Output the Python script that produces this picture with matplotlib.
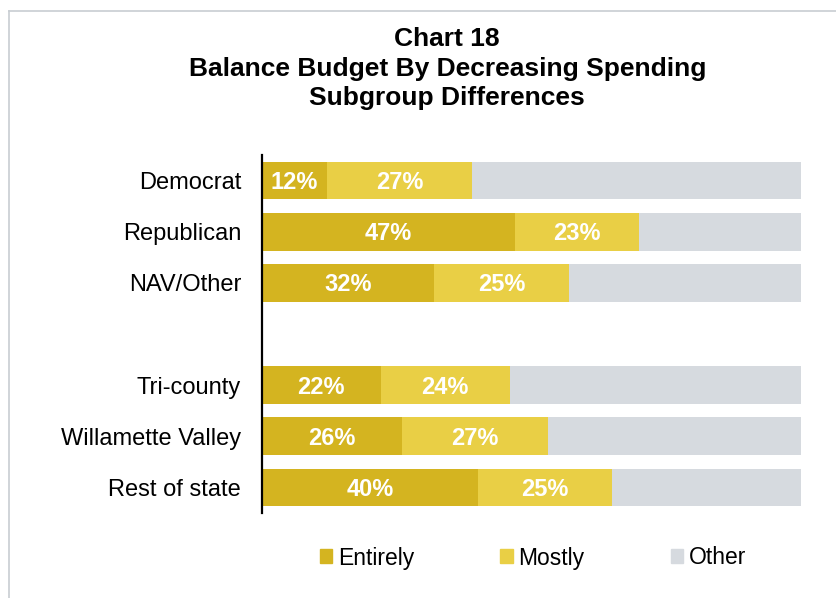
import numpy as np
import matplotlib.pyplot as plt
from matplotlib.lines import Line2D
from matplotlib.patches import Patch

plt.rcParams['font.family'] = ['Liberation Sans', 'DejaVu Sans']

groups = ['Democrat', 'Republican', 'NAV/Other', '', 'Tri-county', 'Willamette Valley', 'Rest of state']
entirely = [12, 47, 32, 0, 22, 26, 40]
mostly = [27, 23, 25, 0, 24, 27, 25]
other = [61, 30, 43, 0, 54, 47, 35]

c_ent = '#D4B420'
c_most = '#E9CF45'
c_oth = '#D6DADF'

fig = plt.figure(figsize=(8.36, 5.98), dpi=100)
ax = fig.add_axes([262 / 836, 1 - 513 / 598, 539 / 836, 358 / 598])

y = np.arange(len(groups))
ent = np.array(entirely)
mos = np.array(mostly)
oth = np.array(other)
shown = np.array([g != '' for g in groups])

h = 0.74
ax.barh(y[shown], ent[shown], height=h, color=c_ent)
ax.barh(y[shown], mos[shown], left=ent[shown], height=h, color=c_most)
ax.barh(y[shown], oth[shown], left=(ent + mos)[shown], height=h, color=c_oth)

# value labels, nudged down a little so the digits sit in the middle of the bar
for i in y[shown]:
    ax.text(ent[i] / 2, i + 0.04, f'{ent[i]}%', ha='center', va='center',
            color='white', fontsize=17, fontweight='bold')
    ax.text(ent[i] + mos[i] / 2, i + 0.04, f'{mos[i]}%', ha='center', va='center',
            color='white', fontsize=17, fontweight='bold')

ax.set_xlim(0, 100)
ax.set_ylim(len(groups) - 0.5, -0.5)
ax.set_yticks(y)
ax.set_yticklabels(groups, fontsize=17)
ax.tick_params(axis='y', length=0, pad=15)
ax.set_xticks([])
for s in ['top', 'right', 'bottom']:
    ax.spines[s].set_visible(False)
ax.spines['left'].set_linewidth(1.6)
ax.spines['left'].set_color('black')

fig.text(0.535, 1 - 27 / 598,
         'Chart 18\nBalance Budget By Decreasing Spending\nSubgroup Differences',
         ha='center', va='top', fontsize=19, fontweight='bold', linespacing=1.29)

handles = [Patch(color=c_ent, label='Entirely'),
           Patch(color=c_most, label='Mostly'),
           Patch(color=c_oth, label='Other')]
fig.legend(handles=handles, loc='center', bbox_to_anchor=(0.6376, 1 - 558 / 598),
           ncol=3, frameon=False, fontsize=16.5, handlelength=0.55, handleheight=0.55,
           handletextpad=0.25, columnspacing=3.75)

# thin frame along the top and left edge
fig.add_artist(Line2D([8.5 / 836, 1], [1 - 10.5 / 598] * 2, color='#C8CDD2', lw=1.2))
fig.add_artist(Line2D([8.5 / 836] * 2, [0, 1 - 10.5 / 598], color='#C8CDD2', lw=1.2))

fig.savefig('out.png', dpi=100)
